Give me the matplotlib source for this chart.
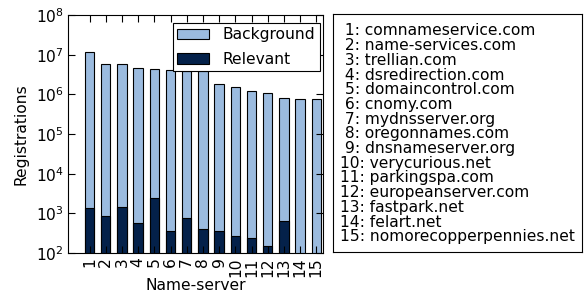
import numpy as np
import matplotlib
matplotlib.use("Agg")
import matplotlib.pyplot as plt

servers = ["comnameservice.com", "name-services.com", "trellian.com",
           "dsredirection.com", "domaincontrol.com", "cnomy.com",
           "mydnsserver.org", "oregonnames.com", "dnsnameserver.org",
           "verycurious.net", "parkingspa.com", "europeanserver.com",
           "fastpark.net", "felart.net", "nomorecopperpennies.net"]
background = [1.19e7, 5.8e6, 5.8e6, 4.6e6, 4.5e6, 4.1e6, 3.95e6, 3.9e6,
              1.8e6, 1.56e6, 1.24e6, 1.08e6, 8.3e5, 7.6e5, 7.5e5]
relevant = [1350, 865, 1480, 586, 2450, 363, 770, 405,
            369, 271, 240, 151, 645, 0, 0]

light = "#9bbbdf"
dark = "#04214a"
fs = 11.2

def main():
    fig = plt.figure(figsize=(5.84, 2.97), dpi=100)
    ax = fig.add_axes([0.1164, 0.148, 0.4366, 0.801])
    x = np.arange(1, len(servers) + 1)
    w = 0.58

    ax.bar(x, background, width=w, color=light, edgecolor="black",
           linewidth=0.8, label="Background")
    rel = np.array(relevant, dtype=float)
    mask = rel > 0
    ax.bar(x[mask], rel[mask], width=w, color=dark, edgecolor="black",
           linewidth=0.8, label="Relevant")

    ax.set_yscale("log")
    ax.set_ylim(1e2, 1e8)
    ax.set_xlim(-0.33, 15.41)
    ax.set_xticks(x)
    ax.set_xticklabels([str(i) for i in x], rotation=90, fontsize=fs)
    ax.yaxis.set_minor_locator(matplotlib.ticker.NullLocator())
    ax.tick_params(axis="both", which="major", direction="in", length=5,
                   top=True, right=True, labelsize=fs, pad=3)
    ax.set_ylabel("Registrations", fontsize=fs, labelpad=5)
    ax.set_xlabel("Name-server", fontsize=fs, labelpad=1)
    leg = ax.legend(loc="upper right", fontsize=fs, fancybox=False,
                    framealpha=1, edgecolor="black",
                    bbox_to_anchor=(0.988, 0.968), borderaxespad=0,
                    handlelength=2.0, borderpad=0.3, labelspacing=0.6,
                    handletextpad=0.9)
    leg.get_frame().set_linewidth(0.8)

    # key box with the server names
    kx = fig.add_axes([0.570, 0.152, 0.426, 0.800])
    kx.set_xticks([])
    kx.set_yticks([])
    kx.set_xlim(0, 1)
    kx.set_ylim(0, 1)
    for i, name in enumerate(servers):
        y = 0.930 - i * 0.0619
        label = f"{i + 1}: {name}" if i >= 9 else f" {i + 1}: {name}"
        kx.text(0.03, y, label, fontsize=fs, va="center", ha="left")

    fig.savefig("out.png", dpi=100)

if __name__ == "__main__":
    main()
